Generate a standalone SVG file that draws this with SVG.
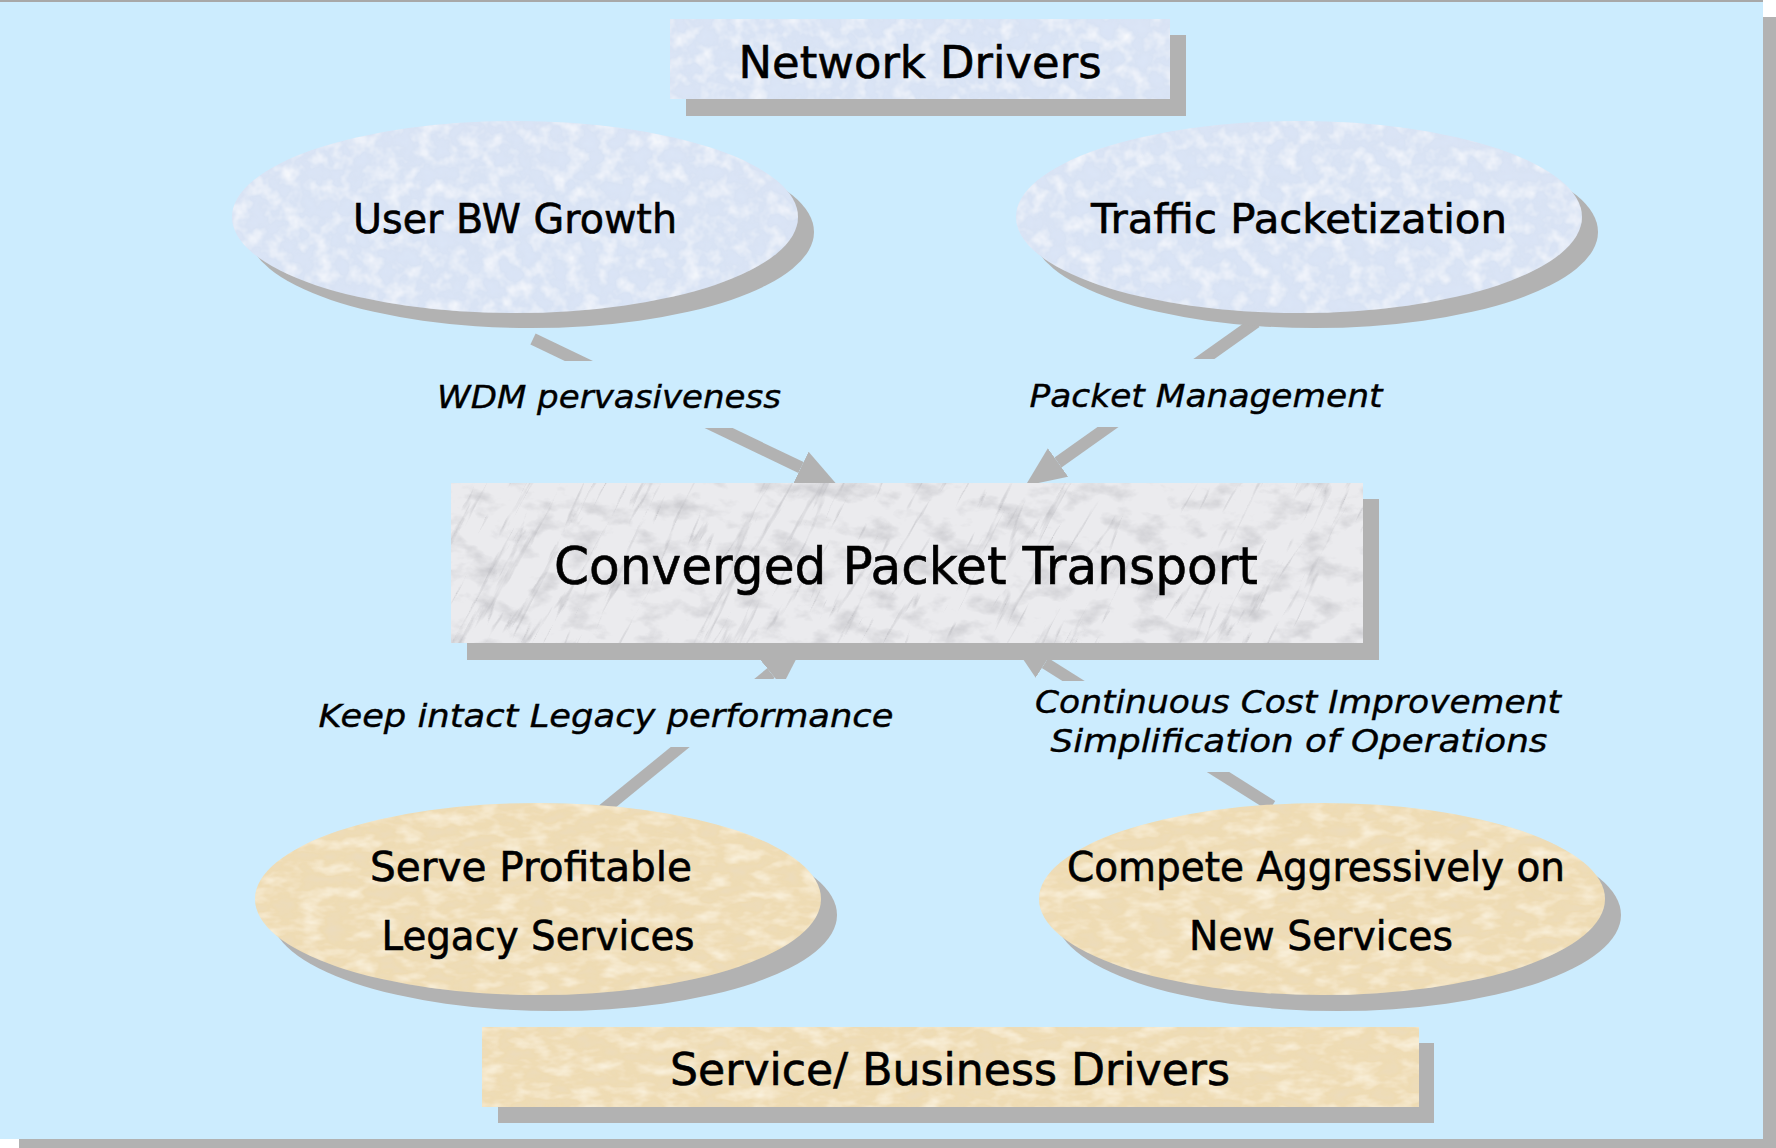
<svg xmlns="http://www.w3.org/2000/svg" width="1776" height="1148" viewBox="0 0 1776 1148">
<defs>
<style>
.sh{fill:#B2B2B2}
.bg{fill:#CCECFE}
.t{font-family:"DejaVu Sans","Liberation Sans",sans-serif;fill:#000;stroke:#000;stroke-width:0.6;text-anchor:middle}
.i{font-style:italic;font-size:32px;stroke-width:0.4}
.conn{stroke:#B2B2B2;stroke-width:12;fill:none;stroke-linecap:butt;marker-end:url(#arrow)}
</style>
<marker id="arrow" viewBox="0 0 40 35" refX="0" refY="17.5" markerWidth="40" markerHeight="35" markerUnits="userSpaceOnUse" orient="auto">
<path d="M0,0 L40,17.5 L0,35 z" fill="#B2B2B2"/>
</marker>
<filter id="texBlue" x="0" y="0" width="100%" height="100%">
<feTurbulence type="fractalNoise" baseFrequency="0.06" numOctaves="3" seed="7" result="n"/>
<feColorMatrix in="n" type="matrix" values="0 0 0 0 1 0 0 0 0 1 0 0 0 0 1 1.6 0 0 0 -0.72" result="spots"/>
<feComposite in="spots" in2="SourceGraphic" operator="in" result="s2"/>
<feColorMatrix in="n" type="matrix" values="0 0 0 0 0.72 0 0 0 0 0.80 0 0 0 0 0.95 -1.6 0 0 0 0.72" result="dk"/>
<feComposite in="dk" in2="SourceGraphic" operator="in" result="d2"/>
<feMerge><feMergeNode in="SourceGraphic"/><feMergeNode in="s2"/><feMergeNode in="d2"/></feMerge>
</filter>
<filter id="texTan" x="0" y="0" width="100%" height="100%">
<feTurbulence type="fractalNoise" baseFrequency="0.04 0.08" numOctaves="3" seed="11" result="n"/>
<feColorMatrix in="n" type="matrix" values="0 0 0 0 0.99 0 0 0 0 0.94 0 0 0 0 0.82 1.6 0 0 0 -0.72" result="spots"/>
<feComposite in="spots" in2="SourceGraphic" operator="in" result="s2"/>
<feColorMatrix in="n" type="matrix" values="0 0 0 0 0.82 0 0 0 0 0.72 0 0 0 0 0.55 -1.6 0 0 0 0.70" result="dk"/>
<feComposite in="dk" in2="SourceGraphic" operator="in" result="d2"/>
<feMerge><feMergeNode in="SourceGraphic"/><feMergeNode in="s2"/><feMergeNode in="d2"/></feMerge>
</filter>
<filter id="texMottle" x="0" y="0" width="100%" height="100%">
<feTurbulence type="fractalNoise" baseFrequency="0.03 0.05" numOctaves="4" seed="21" result="n"/>
<feColorMatrix in="n" type="matrix" values="0 0 0 0 0.55 0 0 0 0 0.55 0 0 0 0 0.58 -2.0 0 0 0 1.0" result="g"/>
<feComposite in="g" in2="SourceGraphic" operator="in"/>
</filter>
<filter id="texMarble" x="0" y="0" width="100%" height="100%">
<feTurbulence type="turbulence" baseFrequency="0.006 0.05" numOctaves="4" seed="4" result="n"/>
<feColorMatrix in="n" type="matrix" values="0 0 0 0 0.40 0 0 0 0 0.40 0 0 0 0 0.43 -3.0 0 0 0 0.5" result="streaks"/>
</filter>
<clipPath id="cpBox"><rect x="451" y="483" width="912" height="160"/></clipPath>
</defs>

<g id="background">
<rect class="bg" x="0" y="0" width="1763" height="1139"/>
<rect x="0" y="0" width="1763" height="2" fill="#A8A8A8"/>
<rect class="sh" x="1763" y="17" width="13" height="1131"/>
<rect class="sh" x="19" y="1139" width="1757" height="9"/>
</g>

<g id="connectors">
<line class="conn" x1="533" y1="339" x2="801" y2="467.5"/>
<line class="conn" x1="1256" y1="322" x2="1058" y2="462.5"/>
<line class="conn" x1="603" y1="810" x2="771" y2="673"/>
<line class="conn" x1="1272" y1="806" x2="1045" y2="663"/>
</g>

<g id="labels">
<rect class="bg" x="425" y="361" width="375" height="67"/>
<text class="t i" x="609" y="408" textLength="344" lengthAdjust="spacingAndGlyphs">WDM pervasiveness</text>
<rect class="bg" x="1020" y="359" width="375" height="68"/>
<text class="t i" x="1206" y="407" textLength="353" lengthAdjust="spacingAndGlyphs">Packet Management</text>
<rect class="bg" x="310" y="679" width="590" height="68"/>
<text class="t i" x="606" y="727" textLength="575" lengthAdjust="spacingAndGlyphs">Keep intact Legacy performance</text>
<rect class="bg" x="1025" y="681" width="545" height="91"/>
<text class="t i" x="1298" y="713" textLength="526" lengthAdjust="spacingAndGlyphs">Continuous Cost Improvement</text>
<text class="t i" x="1299" y="752" textLength="497" lengthAdjust="spacingAndGlyphs">Simplification of Operations</text>
</g>

<g id="network-drivers">
<rect class="sh" x="686" y="35" width="500" height="81"/>
<rect x="670" y="19" width="500" height="80" fill="#D9E3F4" filter="url(#texBlue)"/>
<text class="t" x="920" y="78" font-size="45" textLength="363" lengthAdjust="spacingAndGlyphs">Network Drivers</text>
</g>

<g id="user-bw-growth">
<ellipse class="sh" cx="531" cy="232" rx="283" ry="96"/>
<ellipse cx="515" cy="217" rx="283" ry="96" fill="#D9E3F4" filter="url(#texBlue)"/>
<text class="t" x="515" y="233" font-size="40" textLength="324" lengthAdjust="spacingAndGlyphs">User BW Growth</text>
</g>

<g id="traffic-packetization">
<ellipse class="sh" cx="1315" cy="232" rx="283" ry="96"/>
<ellipse cx="1299" cy="217" rx="283" ry="96" fill="#D9E3F4" filter="url(#texBlue)"/>
<text class="t" x="1299" y="233" font-size="40" textLength="416" lengthAdjust="spacingAndGlyphs">Traffic Packetization</text>
</g>

<g id="converged-packet-transport">
<rect class="sh" x="467" y="499" width="912" height="161"/>
<g clip-path="url(#cpBox)">
<rect x="451" y="483" width="912" height="160" fill="#EBEBEE"/>
<rect x="451" y="483" width="912" height="160" fill="#000" filter="url(#texMottle)"/>
<g transform="rotate(-62 907 563)">
<rect x="207" y="-137" width="1400" height="1400" fill="#000" filter="url(#texMarble)"/>
</g>
</g>
<text class="t" x="906" y="584" font-size="52" textLength="704" lengthAdjust="spacingAndGlyphs">Converged Packet Transport</text>
</g>

<g id="serve-profitable">
<ellipse class="sh" cx="554" cy="915" rx="283" ry="96"/>
<ellipse cx="538" cy="899" rx="283" ry="96" fill="#EFDCB4" filter="url(#texTan)"/>
<text class="t" x="531" y="881" font-size="40" textLength="322" lengthAdjust="spacingAndGlyphs">Serve Profitable</text>
<text class="t" x="538" y="950" font-size="40" textLength="313" lengthAdjust="spacingAndGlyphs">Legacy Services</text>
</g>

<g id="compete-aggressively">
<ellipse class="sh" cx="1338" cy="915" rx="283" ry="96"/>
<ellipse cx="1322" cy="899" rx="283" ry="96" fill="#EFDCB4" filter="url(#texTan)"/>
<text class="t" x="1316" y="881" font-size="40" textLength="498" lengthAdjust="spacingAndGlyphs">Compete Aggressively on</text>
<text class="t" x="1321" y="950" font-size="40" textLength="264" lengthAdjust="spacingAndGlyphs">New Services</text>
</g>

<g id="service-business-drivers">
<rect class="sh" x="498" y="1043" width="936" height="80"/>
<rect x="482" y="1027" width="937" height="80" fill="#EFDCB4" filter="url(#texTan)"/>
<text class="t" x="950" y="1085" font-size="44" textLength="560" lengthAdjust="spacingAndGlyphs">Service/ Business Drivers</text>
</g>
</svg>
